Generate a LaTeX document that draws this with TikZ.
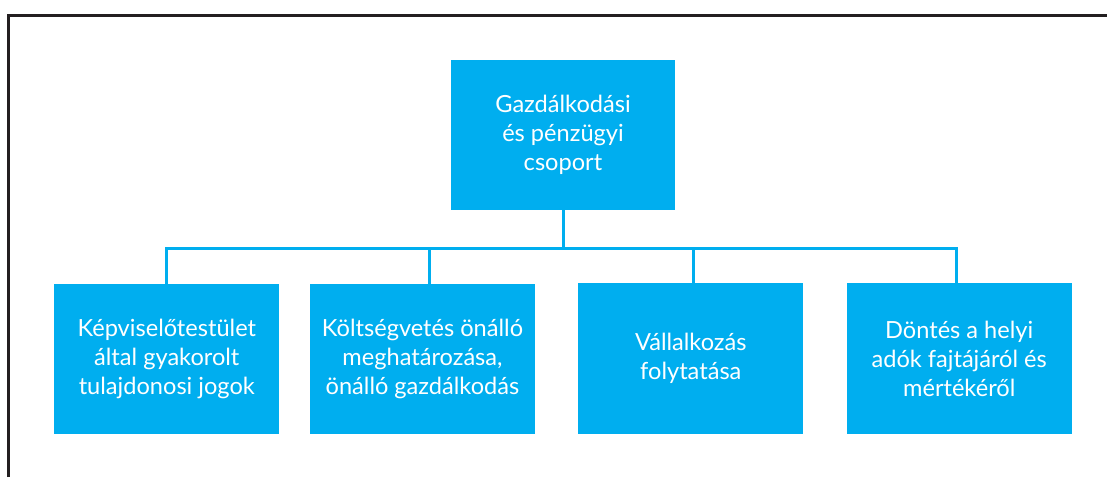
\documentclass[tikz,border=0pt]{standalone}
\usepackage{fontspec}
\setmainfont{Lato}
\definecolor{boxblue}{HTML}{00AEEF}
\definecolor{frameink}{HTML}{231F20}
\begin{document}
\begin{tikzpicture}[x=1pt,y=-1pt,
  orgbox/.style={fill=boxblue,draw=none,minimum width=225pt,minimum height=150pt,
    text=white,align=center,inner sep=0pt,
    font=\fontsize{23.6}{29}\selectfont},
  link/.style={draw=boxblue,line width=3pt},
  framel/.style={draw=frameink,line width=3pt}]
\useasboundingbox (0,0) rectangle (1107,477);
% frame
\coordinate (fl) at (8,477);
\coordinate (ftl) at (8,15);
\coordinate (ftr) at (1107,15);
\draw[framel] (fl) -- (ftl) -- (ftr);
% boxes
\node[orgbox,minimum width=224pt] (top) at (563,134.5) {Gazdálkodási\\és pénzügyi\\csoport};
\node[orgbox] (b1) at (166.8,359.3) {Képviselőtestület\\által gyakorolt\\tulajdonosi jogok};
\node[orgbox] (b2) at (422.5,359) {Költségvetés önálló\\meghatározása,\\önálló gazdálkodás};
\node[orgbox,minimum height=151pt] (b3) at (690.8,358.5) {Vállalkozás\\folytatása};
\node[orgbox,minimum height=151pt] (b4) at (959.2,358.5) {Döntés a helyi\\adók fajtájáról és\\mértékéről};
% connectors
\coordinate (d1) at (166.7,248);
\coordinate (d2) at (429.3,248);
\coordinate (d3) at (693.3,248);
\coordinate (d4) at (956.7,248);
\draw[link] (top.south) -- (top.south |- d1);
\draw[link,line join=miter] (d1 |- b1.north) -- (d1) -- (d4) -- (d4 |- b4.north);
\draw[link] (d2) -- (d2 |- b2.north);
\draw[link] (d3) -- (d3 |- b3.north);
\end{tikzpicture}
\end{document}
